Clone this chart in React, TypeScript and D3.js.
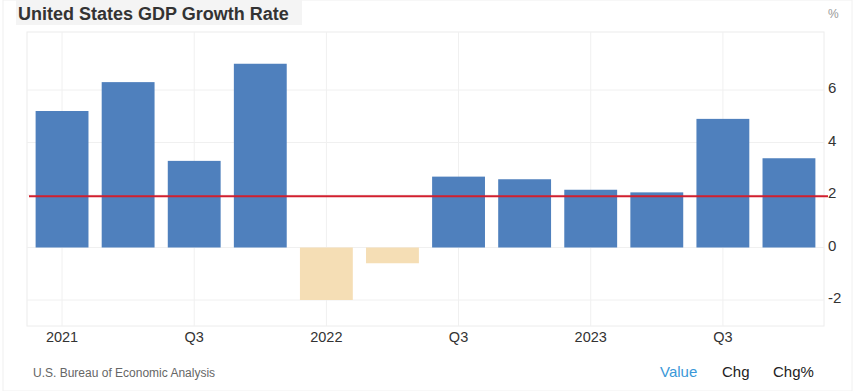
import * as d3 from "d3";

const quarters = ["2021 Q1", "2021 Q2", "2021 Q3", "2021 Q4", "2022 Q1", "2022 Q2", "2022 Q3", "2022 Q4", "2023 Q1", "2023 Q2", "2023 Q3", "2023 Q4"];
const growth = [5.2, 6.3, 3.3, 7.0, -2.0, -0.6, 2.7, 2.6, 2.2, 2.1, 4.9, 3.4];
const average = 1.95;
const xTicks = ["2021 Q1", "2021 Q3", "2022 Q1", "2022 Q3", "2023 Q1", "2023 Q3"];
const xTickLabels = ["2021", "Q3", "2022", "Q3", "2023", "Q3"];
const yTicks = [-2, 0, 2, 4, 6];
const tabs = ["Value", "Chg", "Chg%"];

const W = 864;
const H = 391;
const plot = { left: 27, right: 824, top: 32, bottom: 326 };
const font = "'Liberation Sans', Arial, sans-serif";

export default function App() {
  const x = d3.scaleBand<string>().domain(quarters).range([plot.left + 2, plot.right - 2]).paddingInner(0.2).paddingOuter(0.1);
  const y = d3.scaleLinear().domain([-2, 2]).range([300, 195]);

  const tabX = [660, 722, 773];

  return (
    <svg width={W} height={H} style={{ position: "absolute", left: 0, top: 0, background: "#fff" }} fontFamily={font}>
      <rect x={3} y={0} width={849} height={H} fill="#fff" stroke="#f0f0f0" />
      <rect x={16} y={0} width={286} height={25} fill="#f4f4f4" />
      <text x={18} y={20} fontSize={18} fontWeight="bold" fill="#333">United States GDP Growth Rate</text>
      <text x={828} y={18} fontSize={12} fill="#999">%</text>

      <rect x={plot.left} y={plot.top} width={plot.right - plot.left} height={plot.bottom - plot.top} fill="none" stroke="#ececec" />
      {yTicks.map((t) => (
        <line key={t} x1={plot.left} x2={plot.right} y1={y(t)} y2={y(t)} stroke="#f0f0f0" />
      ))}
      {xTicks.map((q) => {
        const cx = (x(q) ?? 0) + x.bandwidth() / 2;
        return <line key={q} x1={cx} x2={cx} y1={plot.top} y2={plot.bottom} stroke="#f0f0f0" />;
      })}

      {quarters.map((q, i) => {
        const v = growth[i];
        return (
          <rect
            key={q}
            x={x(q)}
            width={x.bandwidth()}
            y={Math.min(y(v), y(0))}
            height={Math.abs(y(v) - y(0))}
            fill={v >= 0 ? "#4f80bd" : "#f5deb5"}
          />
        );
      })}

      <line x1={plot.left + 2} x2={plot.right + 4} y1={y(average)} y2={y(average)} stroke="#d21f2e" strokeWidth={2} />

      {yTicks.map((t) => (
        <text key={t} x={828} y={y(t) + 3} fontSize={15} fill="#333">{t}</text>
      ))}
      {xTicks.map((q, i) => {
        const cx = (x(q) ?? 0) + x.bandwidth() / 2;
        return (
          <text key={q} x={cx} y={342} fontSize={14.5} fill="#333" textAnchor="middle">{xTickLabels[i]}</text>
        );
      })}

      <text x={33} y={377} fontSize={12} fill="#666">U.S. Bureau of Economic Analysis</text>
      {tabs.map((t, i) => (
        <text key={t} x={tabX[i]} y={377} fontSize={15} fill={i === 0 ? "#3a98d8" : "#222"}>{t}</text>
      ))}
    </svg>
  );
}
